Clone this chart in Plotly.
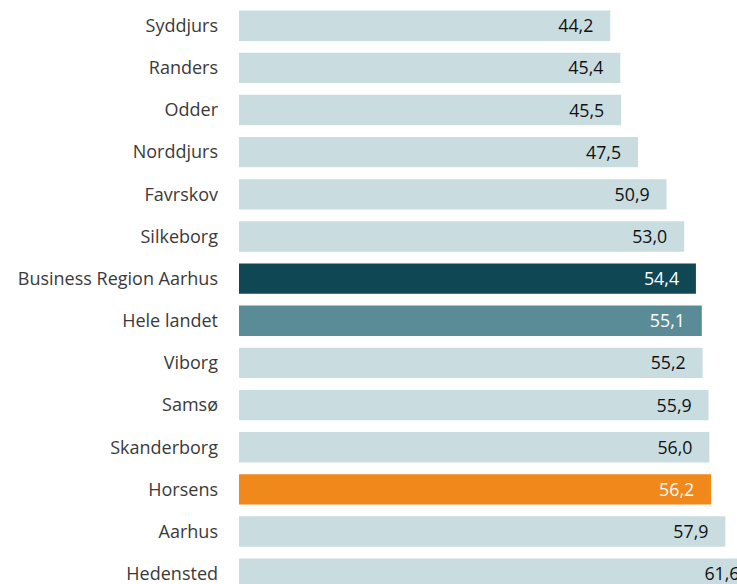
import plotly.graph_objects as go

kommuner = [
    "Syddjurs", "Randers", "Odder", "Norddjurs", "Favrskov", "Silkeborg",
    "Business Region Aarhus", "Hele landet", "Viborg", "Samsø",
    "Skanderborg", "Horsens", "Aarhus", "Hedensted",
]
vaerdier = [44.2, 45.4, 45.5, 47.5, 50.9, 53.0, 54.4, 55.1, 55.2, 55.9, 56.0, 56.2, 57.9, 61.6]

LYS = "#c9dde1"
farver = {
    "Business Region Aarhus": "#0f4754",
    "Hele landet": "#5a8c98",
    "Horsens": "#f0881c",
}
bar_colors = [farver.get(k, LYS) for k in kommuner]
text_colors = ["white" if k in farver else "#111111" for k in kommuner]

fig = go.Figure(
    go.Bar(
        x=vaerdier,
        y=kommuner,
        orientation="h",
        marker=dict(color=bar_colors, line=dict(width=0)),
        width=0.72,
        texttemplate="%{x:.1f}\u00a0\u00a0\u00a0",
        textposition="inside",
        insidetextanchor="end",
        textangle=0,
        insidetextfont=dict(color=text_colors, size=19, family="Open Sans"),
        cliponaxis=True,
        hoverinfo="skip",
    )
)

# range is cut so the last bar (Hedensted) runs off the right edge, like the source
fig.update_xaxes(range=[0, 59.29], visible=False, showgrid=False, zeroline=False)
fig.update_yaxes(
    range=[13.245, -0.610],
    showgrid=False,
    zeroline=False,
    ticks="",
    ticklabelstandoff=20,
    tickfont=dict(size=18, family="Open Sans", color="#3a3a3a"),
)
fig.update_layout(
    width=737,
    height=584,
    margin=dict(t=0, l=239, r=0, b=0, pad=0),
    separators=",.",
    plot_bgcolor="white",
    paper_bgcolor="white",
    showlegend=False,
)

fig.write_html(
    "out.html",
    config=dict(displayModeBar=False),
    post_script="document.body.style.margin='0';document.body.style.overflow='hidden';",
)
